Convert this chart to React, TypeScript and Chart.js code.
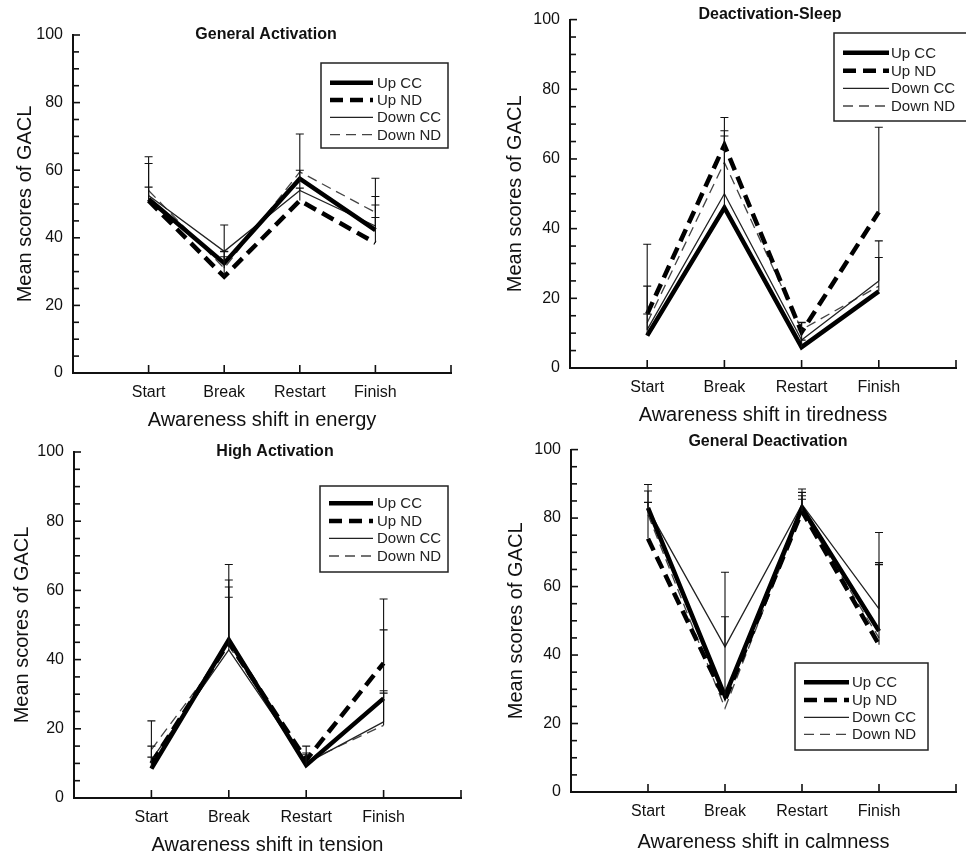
import React, { useEffect, useRef } from 'react';
import { Chart, registerables } from 'chart.js';

Chart.register(...registerables);

// ---------- data ----------
const categories = ['Start', 'Break', 'Restart', 'Finish'];
const seriesNames = ['Up CC', 'Up ND', 'Down CC', 'Down ND'];
const yTickLabels = [0, 20, 40, 60, 80, 100];

const panelTitles = ['General Activation', 'Deactivation-Sleep', 'High Activation', 'General Deactivation'];
const xAxisTitles = [
  'Awareness shift in energy',
  'Awareness shift in tiredness',
  'Awareness shift in tension',
  'Awareness shift in calmness',
];
const yAxisTitle = 'Mean scores of GACL';

// Panel 1: energy
const energyUpCC = [51.5, 32.5, 57.5, 42.3];
const energyUpND = [51, 28.5, 51, 38.5];
const energyDownCC = [52.5, 36, 54, 43.5];
const energyDownND = [54, 31, 59.5, 47.5];
const energyUpCCErrTop = [64, 43.8, 70.7, 57.6];
const energyUpNDErrTop = [55, 34.4, 54.7, 46];
const energyDownCCErrTop = [62, 36, 60, 52.2];
const energyDownNDErrTop = [null, 35.9, null, 49.7];

// Panel 2: tiredness
const tiredUpCC = [9.3, 46, 6, 22];
const tiredUpND = [15.5, 64, 10.3, 44.8];
const tiredDownCC = [11, 50, 8, 25];
const tiredDownND = [13, 59, 11, 23.5];
const tiredUpCCErrTop = [23.5, 68.1, 8, 31.7];
const tiredUpNDErrTop = [35.5, 71.9, 13.1, 69.1];
const tiredDownCCErrTop = [15.5, 66.6, 11, 36.5];
const tiredDownNDErrTop = [null, null, 13, null];

// Panel 3: tension
const tensionUpCC = [8.5, 45.7, 9.5, 28.8];
const tensionUpND = [10, 45, 11, 39];
const tensionDownCC = [11, 42.8, 10, 22];
const tensionDownND = [14, 44, 10.5, 21];
const tensionUpCCErrTop = [15, 67.5, 15, 48.6];
const tensionUpNDErrTop = [22.3, 61, 13, 57.5];
const tensionDownCCErrTop = [11.8, 58, 12.5, 31];
const tensionDownNDErrTop = [null, 63, null, 30.3];

// Panel 4: calmness
const calmUpCC = [83, 28, 83, 47];
const calmUpND = [74, 27, 82, 43];
const calmDownCC = [82.7, 42.4, 84, 53.5];
const calmDownND = [81, 24.5, 82, 45];
const calmUpCCErrTop = [87.9, 51.2, 88.5, 67];
const calmUpNDErrTop = [89.8, null, 87.5, 66.4];
const calmDownCCErrTop = [84.6, 64.2, 86.5, 75.8];
const calmDownNDErrTop = [null, null, 85.5, null];

const panelSeries = [
  [energyUpCC, energyUpND, energyDownCC, energyDownND],
  [tiredUpCC, tiredUpND, tiredDownCC, tiredDownND],
  [tensionUpCC, tensionUpND, tensionDownCC, tensionDownND],
  [calmUpCC, calmUpND, calmDownCC, calmDownND],
];
const panelErrTops = [
  [energyUpCCErrTop, energyUpNDErrTop, energyDownCCErrTop, energyDownNDErrTop],
  [tiredUpCCErrTop, tiredUpNDErrTop, tiredDownCCErrTop, tiredDownNDErrTop],
  [tensionUpCCErrTop, tensionUpNDErrTop, tensionDownCCErrTop, tensionDownNDErrTop],
  [calmUpCCErrTop, calmUpNDErrTop, calmDownCCErrTop, calmDownNDErrTop],
];

// ---------- styles / layout ----------
const FONT = '"Liberation Sans", Arial, Helvetica, sans-serif';
const INK = '#111';

const seriesStyles = [
  { width: 4.5, dash: [], color: '#000' },
  { width: 4.5, dash: [13, 7], color: '#000' },
  { width: 1.3, dash: [], color: '#222' },
  { width: 1.3, dash: [10, 6], color: '#444' },
];

const layouts = [
  {
    left: 0, top: 0, w: 483, h: 430,
    area: { l: 73, t: 35, r: 451, b: 373 },
    titlePos: { x: 266, y: 35 },
    xTitlePadBottom: 0, yTitlePadTop: 15,
    legend: { x: 321, y: 63, w: 127, h: 85, sx1: 330, sx2: 373, tx: 377, rows: [82.7, 100, 117.3, 134.7] },
  },
  {
    left: 483, top: 0, w: 483, h: 430,
    area: { l: 87, t: 15, r: 483, b: 368 },
    titlePos: { x: 287, y: 15 },
    xTitlePadBottom: 5, yTitlePadTop: 22,
    legend: { x: 351, y: 33, w: 150, h: 88, sx1: 360, sx2: 406, tx: 408, rows: [52.7, 70.7, 88.3, 106] },
  },
  {
    left: 0, top: 430, w: 483, h: 425,
    area: { l: 74, t: 22, r: 461, b: 368 },
    titlePos: { x: 275, y: 22 },
    xTitlePadBottom: 0, yTitlePadTop: 12.5,
    legend: { x: 320, y: 56, w: 128, h: 86, sx1: 329, sx2: 373, tx: 377, rows: [73.3, 91, 108.3, 126] },
  },
  {
    left: 483, top: 430, w: 483, h: 425,
    area: { l: 88, t: 11, r: 483, b: 362 },
    titlePos: { x: 285, y: 12 },
    xTitlePadBottom: 3, yTitlePadTop: 23.5,
    legend: { x: 312, y: 233, w: 133, h: 87, sx1: 321, sx2: 366, tx: 369, rows: [252.3, 270, 287.3, 304.3] },
  },
];

const decorPlugin = {
  id: 'decor',
  afterDatasetsDraw(chart: any, _args: any, opts: any) {
    const ctx = chart.ctx as CanvasRenderingContext2D;
    const xs = chart.scales.x;
    const ys = chart.scales.y;
    const ca = chart.chartArea;
    ctx.save();
    // error bars (upper only)
    ctx.strokeStyle = INK;
    ctx.lineWidth = 1.1;
    ctx.setLineDash([]);
    chart.data.datasets.forEach((ds: any) => {
      const tops = ds.errTop as (number | null)[];
      if (!tops) return;
      ds.data.forEach((p: any, i: number) => {
        const t = tops[i];
        if (t == null) return;
        const x = xs.getPixelForValue(p.x);
        const y0 = ys.getPixelForValue(p.y);
        const y1 = ys.getPixelForValue(t);
        ctx.beginPath();
        ctx.moveTo(x, y0);
        ctx.lineTo(x, y1);
        ctx.moveTo(x - 4, y1);
        ctx.lineTo(x + 4, y1);
        ctx.stroke();
      });
    });
    // inward ticks
    ctx.strokeStyle = INK;
    ctx.lineWidth = 1.6;
    ys.ticks.forEach((t: any) => {
      const y = ys.getPixelForValue(t.value);
      ctx.beginPath();
      ctx.moveTo(ca.left, y);
      ctx.lineTo(ca.left + (yTickLabels.includes(t.value) ? 7 : 6), y);
      ctx.stroke();
    });
    xs.ticks.forEach((t: any) => {
      if (t.value === 0) return;
      const x = xs.getPixelForValue(t.value);
      ctx.beginPath();
      ctx.moveTo(x, ca.bottom);
      ctx.lineTo(x, ca.bottom - 8);
      ctx.stroke();
    });
    // panel title
    ctx.fillStyle = INK;
    ctx.font = `bold 16px ${FONT}`;
    ctx.textAlign = 'center';
    ctx.textBaseline = 'middle';
    ctx.fillText(opts.title, opts.titlePos.x, opts.titlePos.y);
    // legend
    const lg = opts.legend;
    ctx.lineWidth = 1.5;
    ctx.strokeStyle = '#222';
    ctx.strokeRect(lg.x, lg.y, lg.w, lg.h);
    ctx.font = `15px ${FONT}`;
    ctx.textAlign = 'left';
    chart.data.datasets.forEach((ds: any, i: number) => {
      const y = lg.rows[i];
      ctx.strokeStyle = ds.borderColor;
      ctx.lineWidth = ds.borderWidth;
      ctx.setLineDash(ds.borderDash || []);
      ctx.beginPath();
      ctx.moveTo(lg.sx1, y);
      ctx.lineTo(lg.sx2, y);
      ctx.stroke();
      ctx.setLineDash([]);
      ctx.fillStyle = '#222';
      ctx.fillText(ds.label, lg.tx, y + 1);
    });
    ctx.restore();
  },
};

function Panel({ index }: { index: number }) {
  const ref = useRef<HTMLCanvasElement>(null);
  const lay = layouts[index];
  useEffect(() => {
    if (!ref.current) return;
    const datasets = seriesNames.map((name, si) => ({
      label: name,
      data: panelSeries[index][si].map((v, ci) => ({ x: ci + 1, y: v })),
      errTop: panelErrTops[index][si],
      borderColor: seriesStyles[si].color,
      borderWidth: seriesStyles[si].width,
      borderDash: seriesStyles[si].dash,
      borderCapStyle: 'butt',
      borderJoinStyle: 'miter',
      pointRadius: 0,
      fill: false,
      tension: 0,
    }));
    const chart = new Chart(ref.current, {
      type: 'line',
      data: { datasets: datasets as any },
      plugins: [decorPlugin as any],
      options: {
        responsive: false,
        animation: false,
        devicePixelRatio: 1,
        layout: {
          padding: { left: 0, top: lay.area.t, right: lay.w - lay.area.r, bottom: 0 },
        },
        plugins: {
          legend: { display: false },
          title: { display: false },
          tooltip: { enabled: false },
          decor: { title: panelTitles[index], titlePos: lay.titlePos, legend: lay.legend },
        } as any,
        scales: {
          x: {
            type: 'linear',
            min: 0,
            max: 5,
            grid: { display: false, drawTicks: false },
            border: { display: true, color: INK, width: 2 },
            ticks: {
              stepSize: 1,
              autoSkip: false,
              maxRotation: 0,
              padding: 10,
              color: INK,
              font: { family: FONT, size: 16 },
              callback: (v: any) => categories[Number(v) - 1] ?? '',
            },
            title: {
              display: true,
              text: xAxisTitles[index],
              color: INK,
              font: { family: FONT, size: 20, lineHeight: 1 },
              padding: { top: 0, bottom: lay.xTitlePadBottom },
            },
            afterFit: (s: any) => {
              s.height = lay.h - lay.area.b;
            },
          },
          y: {
            type: 'linear',
            min: 0,
            max: 100,
            grid: { display: false, drawTicks: false },
            border: { display: true, color: INK, width: 2 },
            ticks: {
              stepSize: 5,
              autoSkip: false,
              padding: 10,
              color: INK,
              font: { family: FONT, size: 16 },
              callback: (v: any) => (yTickLabels.includes(Number(v)) ? String(v) : ''),
            },
            title: {
              display: true,
              text: yAxisTitle,
              color: INK,
              font: { family: FONT, size: 20, lineHeight: 1 },
              padding: { top: lay.yTitlePadTop, bottom: 0 },
            },
            afterFit: (s: any) => {
              s.width = lay.area.l;
            },
          },
        },
      } as any,
    });
    return () => chart.destroy();
  }, [index]);
  return (
    <canvas
      ref={ref}
      width={lay.w}
      height={lay.h}
      style={{ position: 'absolute', left: lay.left, top: lay.top, width: lay.w, height: lay.h }}
    />
  );
}

export default function App() {
  return (
    <div style={{ position: 'absolute', left: 0, top: 0, width: 966, height: 855, background: '#fff', overflow: 'hidden' }}>
      {[0, 1, 2, 3].map((i) => (
        <Panel key={i} index={i} />
      ))}
    </div>
  );
}
